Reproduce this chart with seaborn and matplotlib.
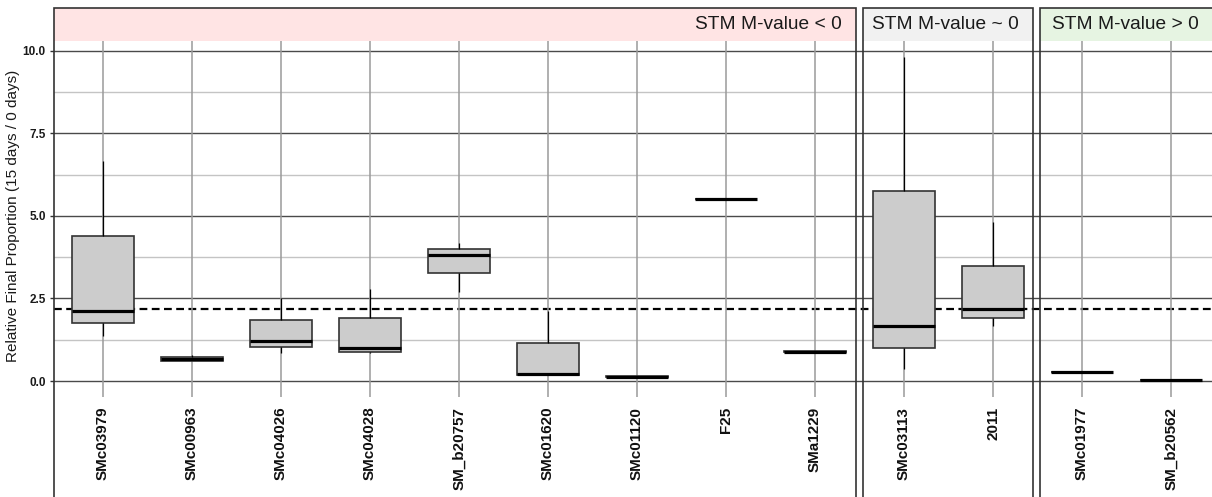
import numpy as np
import pandas as pd
import seaborn as sns
import matplotlib
matplotlib.use('Agg')
import matplotlib.pyplot as plt
from matplotlib.patches import Rectangle

sns.set_theme(style='white')
plt.rcParams['font.family'] = ['Liberation Sans', 'DejaVu Sans']

# data: per gene the 5 points [low, q1, median, q3, high]
genes_neg = ['SMc03979', 'SMc00963', 'SMc04026', 'SMc04028', 'SM_b20757',
             'SMc01620', 'SMc01120', 'F25', 'SMa1229']
genes_zero = ['SMc03113', '2011']
genes_pos = ['SMc01977', 'SM_b20562']

vals = {
    'SMc03979': [1.36, 1.75, 2.12, 4.39, 6.66],
    'SMc00963': [0.60, 0.62, 0.66, 0.74, 0.79],
    'SMc04026': [0.85, 1.03, 1.22, 1.86, 2.50],
    'SMc04028': [0.85, 0.885, 1.00, 1.90, 2.77],
    'SM_b20757': [2.70, 3.26, 3.81, 4.00, 4.17],
    'SMc01620': [0.17, 0.18, 0.20, 1.14, 2.12],
    'SMc01120': [0.10, 0.11, 0.12, 0.14, 0.15],
    'F25': [5.50],
    'SMa1229': [0.86, 0.87, 0.88, 0.90, 0.91],
    'SMc03113': [0.36, 1.01, 1.67, 5.75, 9.82],
    '2011': [1.67, 1.92, 2.17, 3.49, 4.82],
    'SMc01977': [0.26],
    'SM_b20562': [0.04],
}
ref_line = 2.17

panel_titles = ['STM M-value < 0', 'STM M-value ~ 0', 'STM M-value > 0']
panel_genes = [genes_neg, genes_zero, genes_pos]
strip_colors = ['#ffe4e4', '#f1f1f1', '#e6f4e2']

rows = []
for g, v in vals.items():
    for x in v:
        rows.append({'gene': g, 'value': x})
df = pd.DataFrame(rows)

# layout in pixels
W, H = 1212, 497
step = 89.0
panel_px = [(54, 856, 103), (863, 1033, 904), (1040, 1213, 1082)]  # left, right, first center
ax_top, ax_bot = 40.7, 397.0
strip_top = 8.0
ylim = (-0.484, 10.30)

fig = plt.figure(figsize=(W / 100, H / 100), dpi=100)

def fy(p):
    return (H - p) / H

# background axis: y ticks, horizontal grid, reference line
bg = fig.add_axes([54 / W, fy(ax_bot), (W - 54) / W, (ax_bot - ax_top) / H])
bg.set_facecolor('none')
bg.set_xlim(0, 1)
bg.set_ylim(*ylim)
bg.set_xticks([])
bg.set_yticks([0, 2.5, 5, 7.5, 10])
bg.set_yticks([1.25, 3.75, 6.25, 8.75], minor=True)
bg.set_yticklabels(['0.0', '2.5', '5.0', '7.5', '10.0'], fontsize=8.5, fontweight='bold', color='#1a1a1a')
bg.tick_params(axis='y', which='major', left=True, length=3, width=1, color='#333333', pad=3)
bg.tick_params(axis='y', which='minor', left=False, length=0)
bg.grid(axis='y', which='major', color='#4a4a4a', lw=1)
bg.grid(axis='y', which='minor', color='#c4c4c4', lw=1)
for s in bg.spines.values():
    s.set_visible(False)
bg.axhline(ref_line, color='black', lw=1.6, ls=(0, (3.5, 2)), zorder=3)

for (left, right, c0), genes, title, scol in zip(panel_px, panel_genes, panel_titles, strip_colors):
    ax = fig.add_axes([left / W, fy(ax_bot), (right - left) / W, (ax_bot - ax_top) / H])
    ax.set_facecolor('none')
    sub = df[df.gene.isin(genes)]
    sns.boxplot(ax=ax, data=sub, x='gene', y='value', order=genes,
                color='#cccccc', saturation=1, width=0.7,
                linecolor='#333333', linewidth=1.2,
                medianprops={'color': 'black', 'linewidth': 2.3},
                whiskerprops={'color': 'black', 'linewidth': 0.9},
                showcaps=False, showfliers=False)
    ax.set_xlim((left - c0) / step, (right - c0) / step)
    ax.set_ylim(*ylim)
    ax.set_yticks([])
    ax.set_xlabel('')
    ax.set_ylabel('')
    ax.set_axisbelow(True)
    ax.grid(axis='x', color='#9a9a9a', lw=1.1)
    ax.tick_params(axis='x', length=0, pad=7)
    plt.setp(ax.get_xticklabels(), rotation=90, fontsize=11, fontweight='bold',
             color='#111111', va='top', ha='center')
    for s in ax.spines.values():
        s.set_visible(False)

    # strip and frame
    fig.patches.append(Rectangle((left / W, fy(ax_top)), (right - left) / W,
                                 (ax_top - strip_top) / H, transform=fig.transFigure,
                                 facecolor=scol, edgecolor='none', zorder=0))
    fig.patches.append(Rectangle((left / W, -0.05), (right - left) / W,
                                 fy(strip_top) + 0.05, transform=fig.transFigure,
                                 facecolor='none', edgecolor='#333333', lw=1.2, zorder=5))
    fig.text((right - 14) / W, fy((strip_top + ax_top) / 2), title, ha='right', va='center',
             fontsize=13.8, color='#1a1a1a')

fig.text(13 / W, fy(216), 'Relative Final Proportion (15 days / 0 days)', rotation=90,
         ha='center', va='center', fontsize=11, color='#1a1a1a')

fig.savefig('out.png', dpi=100)
